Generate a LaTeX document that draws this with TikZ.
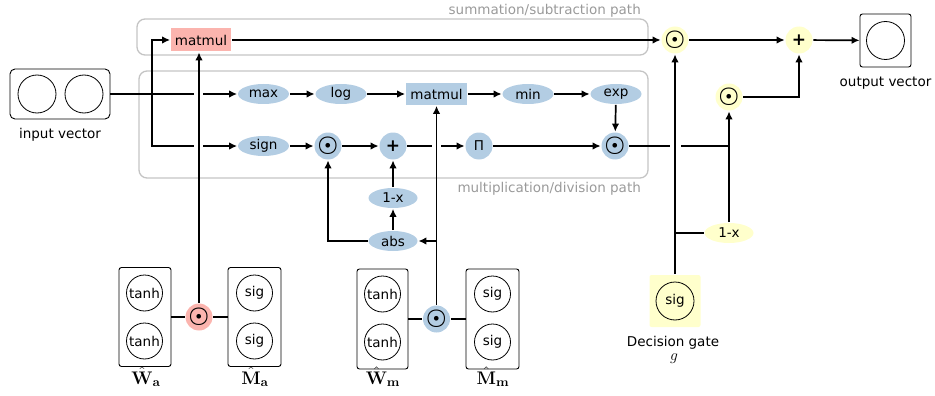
\RequirePackage{fix-cm}
\documentclass[tikz,border=0pt]{standalone}
\usepackage{amsmath}
\usepackage{amsfonts}
\usepackage[no-math]{fontspec}
\setmainfont{DejaVu Sans}
\usetikzlibrary{arrows.meta,shapes.geometric}
\definecolor{pblue}{HTML}{B3CDE3}
\definecolor{pred}{HTML}{FBB4AE}
\definecolor{pyel}{HTML}{FFFFCC}
\definecolor{lanegray}{HTML}{C4C4C4}
\definecolor{lanetext}{HTML}{9A9A9A}
\newcommand\hadam{\scalebox{1.7}{$\boldsymbol{\odot}$}}
\newcommand\plusop{{\fontsize{17}{17}\selectfont\bfseries +}}
\newcommand\mathlabel[2][1.35]{\scalebox{#1}{$#2$}}

\begin{document}
\begin{tikzpicture}[x=1pt,y=-1pt,line width=1.7pt,>={Latex[length=8pt,width=7.5pt]},
    font=\fontsize{13.5}{15}\selectfont,
    bop/.style={ellipse,fill=pblue,minimum width=51pt,minimum height=20pt,inner sep=0pt},
    yop/.style={bop,fill=pyel},
    bbox/.style={rectangle,fill=#1,minimum width=60pt,minimum height=23pt,inner sep=0pt},
    opdot/.style={circle,fill=#1,minimum size=27pt,inner sep=0pt},
    neuron/.style={circle,draw,line width=0.8pt,minimum size=36pt,inner sep=0pt},
    layer/.style={draw,rounded corners=2.5pt,line width=0.9pt,minimum width=52pt,minimum height=99pt},
    lane/.style={draw=lanegray,rounded corners=8pt,line width=1.3pt},
    lanelabel/.style={text=lanetext,anchor=base east}]
    \useasboundingbox (0,0) rectangle (935,396);

    % the two paths
    \draw[lane] (137,19) rectangle (648,55);
    \draw[lane] (139,71) rectangle (648,178);
    \node[lanelabel] (sumlabel) at (645,15) {summation/subtraction path};
    \node[lanelabel] (mullabel) at (645,192) {multiplication/division path};

    % input
    \node[draw,rounded corners=5pt,line width=0.9pt,minimum width=100pt,minimum height=50pt] (in) at (60,94) {};
    \node[neuron,minimum size=38pt] (in1) at (37,94) {};
    \node[neuron,minimum size=38pt] (in2) at (84,94) {};
    \node[anchor=base] (inlabel) at (60,139) {input vector};

    % summation path
    \node[bbox=pred] (mmA) at (201,40) {matmul};

    % multiplication path
    \node[bop] (max) at (263.5,94) {max};
    \node[bop] (log) at (341,94) {log};
    \node[bbox=pblue,minimum width=61pt,minimum height=22pt] (mmM) at (436.5,94) {matmul};
    \node[bop] (min) at (528,94) {min};
    \node[bop] (exp) at (616,94) {exp};
    \node[bop] (sign) at (263.5,146) {sign};
    \node[opdot=pblue] (mul1) at (328,146) {\hadam};
    \node[opdot=pblue] (add1) at (393,146) {\plusop};
    \node[opdot=pblue] (prod) at (479,146) {Π};
    \node[opdot=pblue] (mul2) at (615,146) {\hadam};
    \node[bop,minimum width=49pt] (omx) at (393,198) {1-x};
    \node[bop,minimum width=49pt] (abs) at (393,241) {abs};

    % gate weights
    \node[layer] (Wa) at (145,317) {};
    \node[neuron] (wa1) at (144.5,293) {tanh};
    \node[neuron] (wa2) at (144.5,341) {tanh};
    \node[layer,minimum width=53pt] (Ma) at (254.5,317) {};
    \node[neuron] (ma1) at (254.5,293) {sig};
    \node[neuron] (ma2) at (254.5,341) {sig};
    \node[opdot=pred] (rodot) at (199,317) {\hadam};
    \node[anchor=base] (walabel) at (146,384) {\mathlabel{\hat{\mathbf{W}}_{\mathbf{a}}}};
    \node[anchor=base] (malabel) at (255,384) {\mathlabel{\hat{\mathbf{M}}_{\mathbf{a}}}};

    \node[layer,minimum width=51pt,minimum height=100pt] (Wm) at (382.5,319) {};
    \node[neuron] (wm1) at (382.5,294) {tanh};
    \node[neuron] (wm2) at (382.5,342) {tanh};
    \node[layer,minimum width=53pt,minimum height=100pt] (Mm) at (492.5,319) {};
    \node[neuron] (mm1) at (492.5,294) {sig};
    \node[neuron] (mm2) at (492.5,342) {sig};
    \node[opdot=pblue] (bodot) at (436.5,319) {\hadam};
    \node[anchor=base] (wmlabel) at (383,384) {\mathlabel{\hat{\mathbf{W}}_{\mathbf{m}}}};
    \node[anchor=base] (mmlabel) at (493,384) {\mathlabel{\hat{\mathbf{M}}_{\mathbf{m}}}};

    % decision gate and output
    \node[opdot=pyel] (gmul) at (675,40) {\hadam};
    \node[opdot=pyel] (gadd) at (799,40) {\plusop};
    \node[draw,rounded corners=2.5pt,line width=0.9pt,minimum width=51pt,minimum height=53pt] (out) at (885.5,40.5) {};
    \node[neuron,minimum size=38pt] (out1) at (885.5,40.5) {};
    \node[anchor=base] (outlabel) at (885.5,86) {output vector};
    \node[opdot=pyel] (gmul2) at (729,97) {\hadam};
    \node[yop,minimum width=49pt] (gomx) at (729,233) {1-x};
    \node[fill=pyel,rounded corners=2pt,minimum width=51pt,minimum height=52pt] (gate) at (675,301) {};
    \node[neuron,minimum size=38pt] (gsig) at (675,301) {sig};
    \node[anchor=base] (gatelabel) at (673,346) {Decision gate};
    \node[anchor=base] (glabel) at (674,360) {\mathlabel[1.15]{g}};

    % line hops
    \coordinate (br) at (152,94);
    \coordinate (hopAl) at (194,94);
    \coordinate (hopAr) at (203,94);
    \coordinate (hopBl) at (194,146);
    \coordinate (hopBr) at (203,146);
    \coordinate (hopCl) at (432,146);
    \coordinate (hopCr) at (441,146);
    \coordinate (hopDl) at (670,146);
    \coordinate (hopDr) at (681,146);

    \draw (in) -- (hopAl);
    \draw[->] (hopAr) -- (max);
    \draw[->] (br) |- (mmA);
    \draw (br) |- (hopBl);
    \draw[->] (hopBr) -- (sign);

    \draw[->] (max) -- (log);
    \draw[->] (log) -- (mmM);
    \draw[->] (mmM) -- (min);
    \draw[->] (min) -- (exp);
    \draw[->] (exp) -- (mul2);
    \draw[->] (sign) -- (mul1);
    \draw[->] (mul1) -- (add1);
    \draw (add1) -- (hopCl);
    \draw[->] (hopCr) -- (prod);
    \draw[->] (prod) -- (mul2);
    \draw[->] (abs) -- (omx);
    \draw[->] (omx) -- (add1);
    \draw[->] (abs) -| (mul1);

    \draw (Wa) -- (rodot) -- (Ma);
    \draw (Wm) -- (bodot) -- (Mm);
    \draw[->] (rodot) -- (rodot |- mmA.south);
    \draw[->] (bodot) -- (mmM);
    \draw[->] (bodot |- abs) -- (abs);

    \draw[->] (mmA) -- (gmul);
    \draw[->] (gmul) -- (gadd);
    \draw[->] (gadd) -- (out);
    \draw (mul2) -- (hopDl);
    \draw (hopDr) -- (gomx |- mul2);
    \draw[->] (gomx) -- (gmul2);
    \draw[->] (gmul2) -| (gadd);
    \draw[->] (gate) -- (gmul);
    \draw (gate |- gomx) -- (gomx);
\end{tikzpicture}
\end{document}
